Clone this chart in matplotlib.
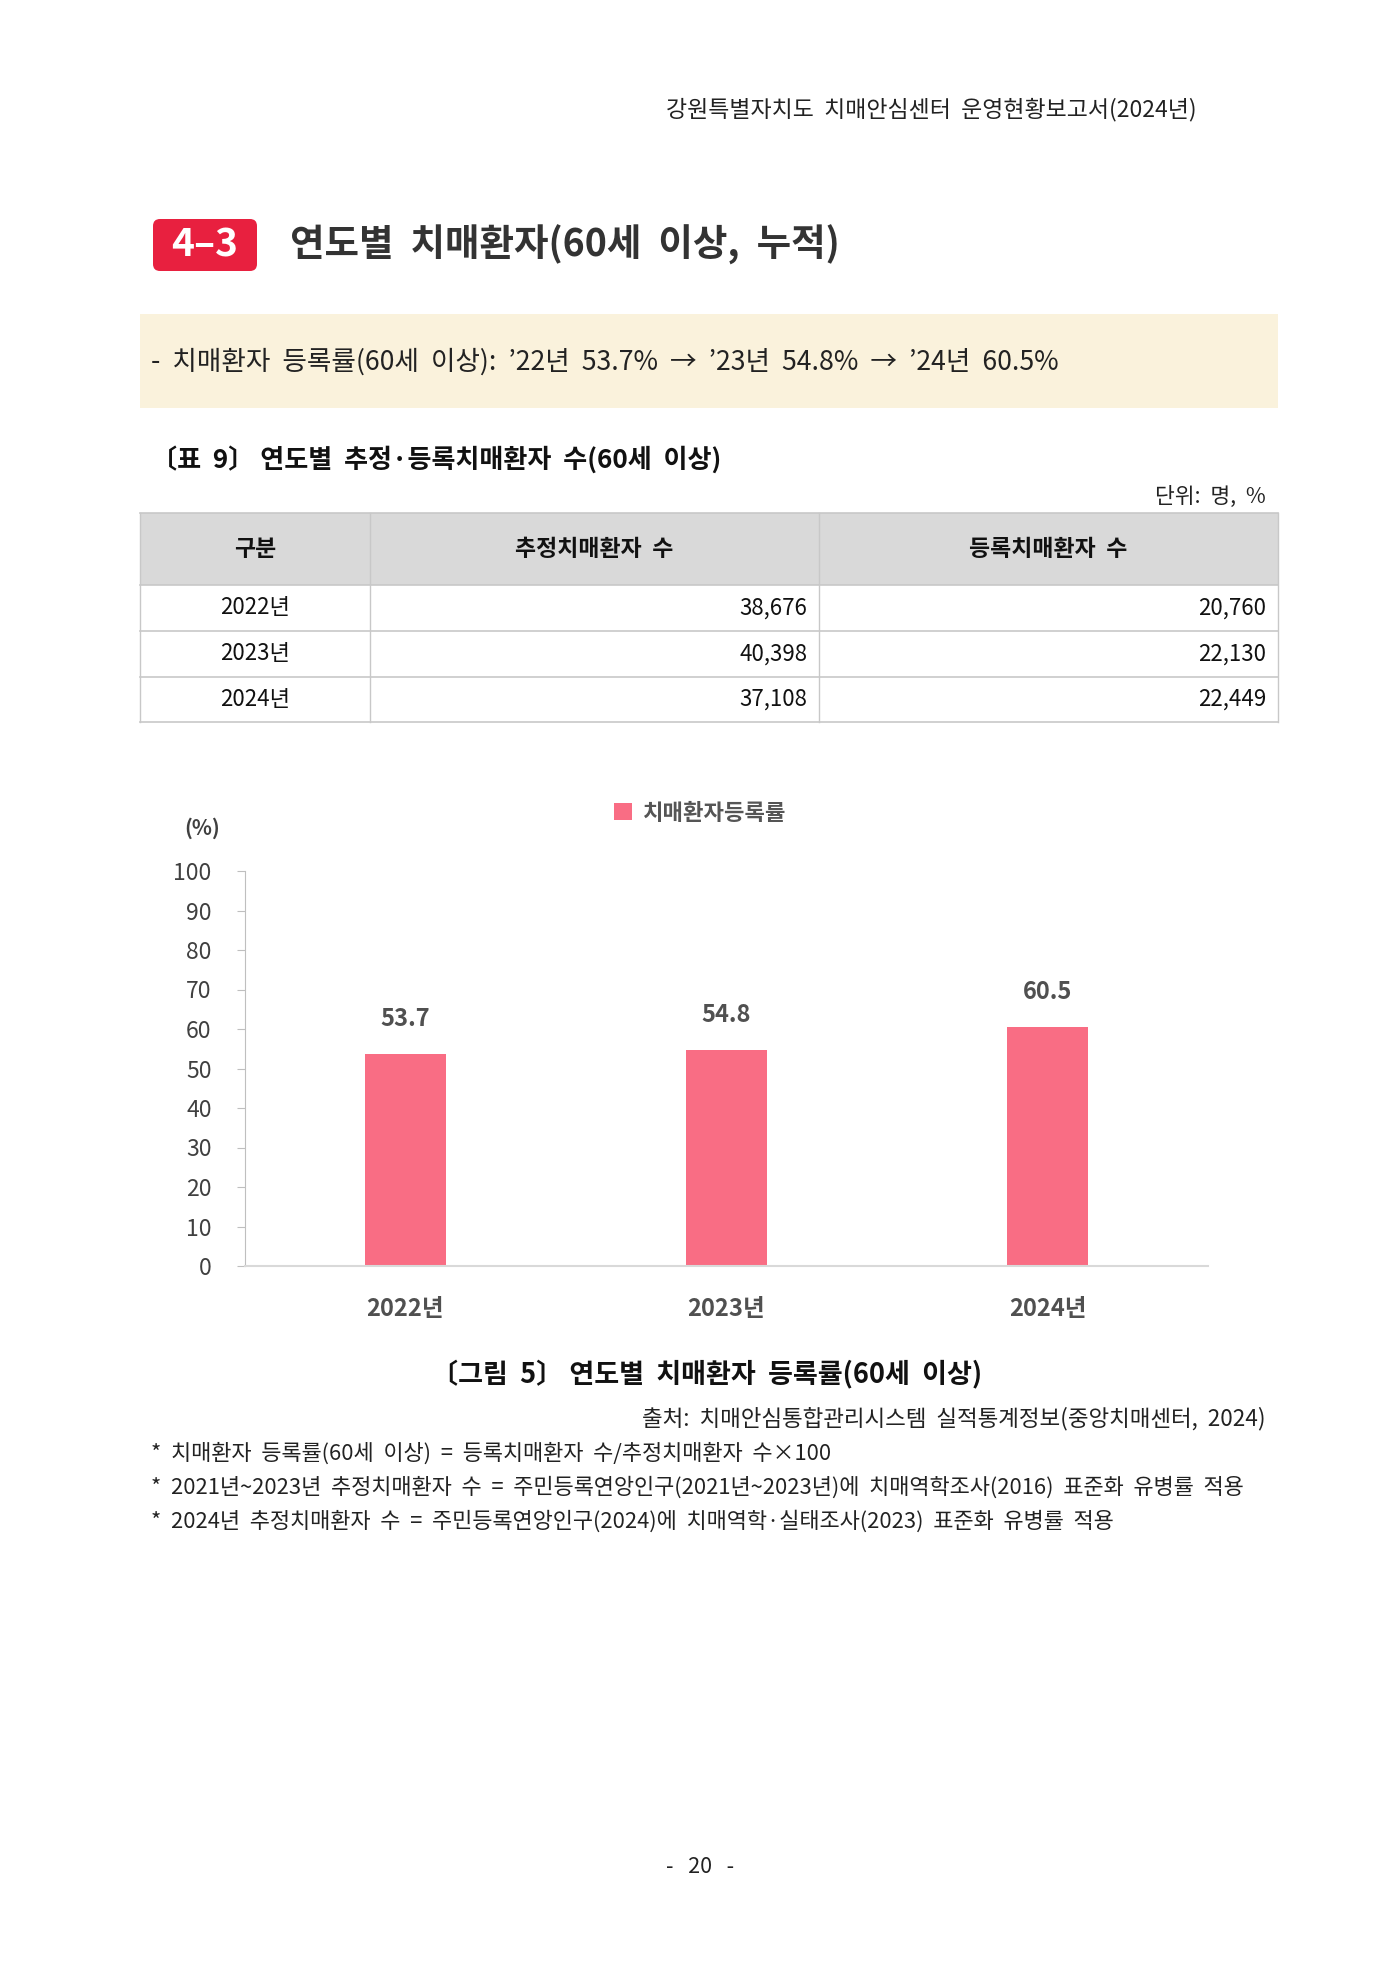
import matplotlib
matplotlib.use("Agg")
import matplotlib.pyplot as plt
from matplotlib.patches import Rectangle, FancyBboxPatch

plt.rcParams['font.family'] = ['Noto Sans CJK KR', 'DejaVu Sans']

# 데이터
years = ["2022년", "2023년", "2024년"]
rates = [53.7, 54.8, 60.5]
est_patients = ["38,676", "40,398", "37,108"]
reg_patients = ["20,760", "22,130", "22,449"]
col_headers = ["구분", "추정치매환자  수", "등록치매환자  수"]
notes = [
    "*  치매환자  등록률(60세  이상)  =  등록치매환자  수/추정치매환자  수×100",
    "*  2021년~2023년  추정치매환자  수  =  주민등록연앙인구(2021년~2023년)에  치매역학조사(2016)  표준화  유병률  적용",
    "*  2024년  추정치매환자  수  =  주민등록연앙인구(2024)에  치매역학·실태조사(2023)  표준화  유병률  적용",
]

W, H = 1400, 1980
fig = plt.figure(figsize=(W / 100, H / 100), dpi=100)

# 페이지 레이어 (픽셀 좌표)
page = fig.add_axes([0, 0, 1, 1])
page.set_xlim(0, W)
page.set_ylim(H, 0)
page.axis('off')

page.text(1197, 110, "강원특별자치도  치매안심센터  운영현황보고서(2024년)", ha='right', va='center',
          fontsize=16.5, color='#222222')

# 섹션 제목
page.add_patch(FancyBboxPatch((153, 219), 104, 52, boxstyle="round,pad=0,rounding_size=7",
                              fc='#E8203F', ec='none'))
page.text(205, 245, "4–3", ha='center', va='center', fontsize=28, fontweight='bold', color='white')
page.text(290, 245, "연도별  치매환자(60세  이상,  누적)", ha='left', va='center',
          fontsize=27, fontweight='bold', color='#333333')

# 요약 박스
page.add_patch(Rectangle((140, 314), 1138, 94, fc='#FAF2DC', ec='none'))
page.text(151, 362, "-  치매환자  등록률(60세  이상):  ’22년  53.7%  →  ’23년  54.8%  →  ’24년  60.5%",
          ha='left', va='center', fontsize=19.2, color='#222222')

# 표
page.text(151, 460, "〔표  9〕 연도별  추정·등록치매환자  수(60세  이상)", ha='left', va='center',
          fontsize=18.8, fontweight='bold', color='#111111')
page.text(1266, 497, "단위:  명,  %", ha='right', va='center', fontsize=15.5, color='#222222')

tx = [140, 370, 819, 1278]
ty = [513, 585, 631, 677, 722]
page.add_patch(Rectangle((tx[0], ty[0]), tx[3] - tx[0], ty[1] - ty[0], fc='#D9D9D9', ec='none'))
for y in ty:
    page.plot([tx[0], tx[3]], [y, y], color='#C8C8C8', lw=1.2)
for x in tx:
    page.plot([x, x], [ty[0], ty[-1]], color='#C8C8C8', lw=1.0)
for i, h in enumerate(col_headers):
    page.text((tx[i] + tx[i + 1]) / 2, (ty[0] + ty[1]) / 2, h, ha='center', va='center',
              fontsize=16.5, fontweight='bold', color='#111111')
for r in range(len(years)):
    yc = (ty[r + 1] + ty[r + 2]) / 2
    page.text((tx[0] + tx[1]) / 2, yc, years[r], ha='center', va='center', fontsize=16, color='#111111')
    page.text(tx[2] - 12, yc, est_patients[r], ha='right', va='center', fontsize=16, color='#111111')
    page.text(tx[3] - 12, yc, reg_patients[r], ha='right', va='center', fontsize=16, color='#111111')

# 막대그래프
ax = fig.add_axes([245 / W, 1 - 1266 / H, (1208 - 245) / W, (1266 - 871) / H])
xpos = range(len(years))
bars = ax.bar(xpos, rates, width=0.25, color='#F96D84', label='치매환자등록률')
for x, v in zip(xpos, rates):
    ax.text(x, v + 8.8, f"{v}", ha='center', va='center', fontsize=17, fontweight='bold',
            color='#505050')
ax.set_xlim(-0.5, 2.5)
ax.set_ylim(0, 100)
ax.set_yticks(range(0, 101, 10))
ax.set_xticks(list(xpos))
ax.set_xticklabels(years, fontweight='bold')
ax.tick_params(axis='y', length=6, color='#BFBFBF', pad=18, labelsize=16.5, labelcolor='#404040')
ax.tick_params(axis='x', length=0, pad=22, labelsize=17, labelcolor='#505050')
for s in ['top', 'right']:
    ax.spines[s].set_visible(False)
ax.spines['left'].set_color('#BFBFBF')
ax.spines['bottom'].set_color('#D9D9D9')
ax.spines['bottom'].set_linewidth(1.5)
ax.legend(loc='center', bbox_to_anchor=(700 / W, 1 - 813 / H), bbox_transform=fig.transFigure,
          frameon=False, handlelength=0.8, handleheight=0.8, handletextpad=0.5,
          prop={'size': 16, 'weight': 'bold'}, labelcolor='#555555')
page.text(202, 828, "(%)", ha='center', va='center', fontsize=15, fontweight='bold', color='#404040')

# 그림 제목, 출처, 주석
page.text(707, 1375, "〔그림  5〕 연도별  치매환자  등록률(60세  이상)", ha='center', va='center',
          fontsize=19.5, fontweight='bold', color='#111111')
page.text(1266, 1419, "출처:  치매안심통합관리시스템  실적통계정보(중앙치매센터,  2024)", ha='right', va='center',
          fontsize=16.2, color='#222222')
for i, n in enumerate(notes):
    page.text(151, 1454 + 34 * i, n, ha='left', va='center', fontsize=15.8, color='#222222')

page.text(700, 1867, "-   20   -", ha='center', va='center', fontsize=15.5, color='#222222')

fig.savefig("out.png", dpi=100)
